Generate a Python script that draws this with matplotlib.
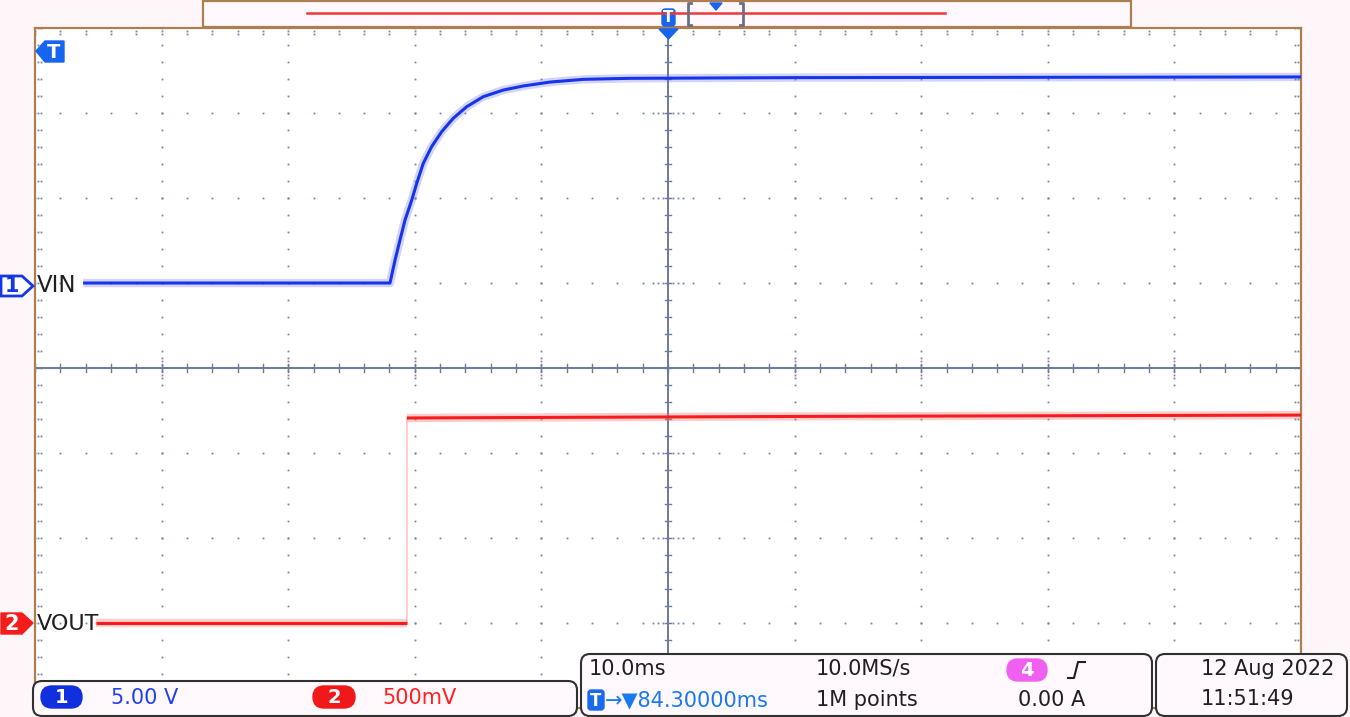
import matplotlib.pyplot as plt
from matplotlib.patches import Polygon, FancyBboxPatch, Rectangle
import numpy as np

# channel 1 (VIN), 5 V/div, ground marker at +1 div
vin_t = [3.8, 28.04, 28.44, 28.83, 29.23, 29.76, 30.15, 30.67, 31.33, 32.12, 33.04,
         34.10, 35.41, 36.99, 38.57, 40.68, 43.31, 47.0, 60.0, 80.0, 100.0]
vin_v = [0.0, 0.0, 1.35, 2.53, 3.71, 4.88, 5.86, 7.04, 8.02, 8.90, 9.69,
         10.37, 10.96, 11.35, 11.59, 11.82, 11.98, 12.04, 12.08, 12.10, 12.12]
vin_scale = 5.0
vin_offset = 1.0

# channel 2 (VOUT), 500 mV/div, ground marker at -3 div
vout_t = [4.8, 29.38, 29.38, 60.0, 100.0]
vout_v = [0.0, 0.0, 1.206, 1.215, 1.223]
vout_scale = 0.5
vout_offset = -3.0

W, H = 1350, 717
PINK = "#fff6fa"
TAN = "#ad7f50"
DOT = "#7484a6"
AXC = "#6a7a9c"
BLUE = "#1535e8"
RED = "#f51c1c"

fig = plt.figure(figsize=(W / 100, H / 100), dpi=100, facecolor=PINK)

# plot area: x 35..1301 px, y 28..708 px
ax = fig.add_axes([35 / W, (H - 708) / H, 1266 / W, 680 / H])
ax.set_facecolor("white")
ax.set_xlim(0, 100)
ax.set_ylim(-4, 4)
ax.set_xticks([])
ax.set_yticks([])
for s in ax.spines.values():
    s.set_color(TAN)
    s.set_linewidth(1.6)

# dotted graticule
for gx in range(10, 100, 10):
    if gx == 50:
        continue
    ys = np.arange(-4, 4.01, 0.2)
    ax.plot(np.full_like(ys, gx), ys, ls="none", marker="s", ms=1.3, color=DOT, mew=0)
    yd = np.array([-0.12, -0.08, -0.04, 0.04, 0.08, 0.12])
    ax.plot(np.full_like(yd, gx), yd, ls="none", marker="s", ms=1.3, color=DOT, mew=0)
for gy in range(-3, 4):
    if gy == 0:
        continue
    xs = np.arange(0, 100.01, 2)
    ax.plot(xs, np.full_like(xs, gy), ls="none", marker="s", ms=1.3, color=DOT, mew=0)
    xd = np.array([48.8, 49.2, 49.6, 50.4, 50.8, 51.2])
    ax.plot(xd, np.full_like(xd, gy), ls="none", marker="s", ms=1.3, color=DOT, mew=0)

# border ticks
yb = np.arange(-4, 4.01, 0.2)
for bx in [0.2, 0.45, 99.55, 99.8]:
    ax.plot(np.full_like(yb, bx), yb, ls="none", marker="s", ms=1.3, color=DOT, mew=0)
xb = np.arange(0, 100.01, 2)
for by in [3.97, 3.93, -3.97, -3.93]:
    ax.plot(xb, np.full_like(xb, by), ls="none", marker="s", ms=1.3, color=DOT, mew=0)

# centre cross with ticks
ax.axhline(0, color=AXC, lw=1.4)
ax.axvline(50, color=AXC, lw=1.4)
for tx in np.arange(0, 100.01, 2):
    ax.plot([tx, tx], [-0.045, 0.045], color=AXC, lw=1.0)
for ty in np.arange(-4, 4.01, 0.2):
    ax.plot([49.75, 50.25], [ty, ty], color=AXC, lw=1.0)

# traces
vin_y = [vin_offset + v / vin_scale for v in vin_v]
ax.plot(vin_t, vin_y, color="#6f6fff", lw=6, alpha=0.3, solid_capstyle="butt", zorder=5)
ax.plot(vin_t, vin_y, color=BLUE, lw=2.2, solid_capstyle="butt", zorder=6)

vout_y = [vout_offset + v / vout_scale for v in vout_v]
ax.plot(vout_t, vout_y, color="#ffb8b8", lw=1.0, zorder=5)
ax.plot(vout_t[:2], vout_y[:2], color="#ff7070", lw=6, alpha=0.35, solid_capstyle="butt", zorder=5)
ax.plot(vout_t[:2], vout_y[:2], color=RED, lw=2.2, solid_capstyle="butt", zorder=6)
ax.plot(vout_t[2:], vout_y[2:], color="#ff7070", lw=6, alpha=0.35, solid_capstyle="butt", zorder=5)
ax.plot(vout_t[2:], vout_y[2:], color=RED, lw=2.2, solid_capstyle="butt", zorder=6)

# overlay in pixel coordinates for the scope decorations
ov = fig.add_axes([0, 0, 1, 1], facecolor="none")
ov.set_xlim(0, W)
ov.set_ylim(H, 0)
ov.axis("off")

FONT = dict(family="DejaVu Sans", fontsize=15)

# channel labels and markers
ov.text(37, 286, "VIN", color="#202020", va="center", ha="left", fontsize=16.5, family="DejaVu Sans")
ov.text(37, 624, "VOUT", color="#202020", va="center", ha="left", fontsize=16, family="DejaVu Sans")
ov.add_patch(Polygon([(1, 276), (22, 276), (33, 286), (22, 296), (1, 296)], closed=True,
                     facecolor="white", edgecolor=BLUE, lw=2.0))
ov.text(12, 286.5, "1", color=BLUE, ha="center", va="center", fontsize=15, fontweight="bold")
ov.add_patch(Polygon([(1, 613), (22, 613), (33, 623), (22, 634), (1, 634)], closed=True,
                     facecolor=RED, edgecolor=RED, lw=1.0))
ov.text(12, 624, "2", color="white", ha="center", va="center", fontsize=15, fontweight="bold")
ov.add_patch(Polygon([(36, 51), (45, 41), (64, 41), (64, 62), (45, 62)], closed=True,
                     facecolor="#1565f0", edgecolor="#1565f0", lw=1.0))
ov.text(54, 52, "T", color="white", ha="center", va="center", fontsize=14, fontweight="bold")

# top record bar
ov.add_patch(Rectangle((203, 1), 928, 26, facecolor="#fff8fc", edgecolor=TAN, lw=1.6))
ov.plot([307, 945], [13, 13], color="#f03838", lw=1.8)
ov.plot([691, 688, 688, 691], [3, 3, 25, 25], color="#687088", lw=2)
ov.plot([740, 743, 743, 740], [3, 3, 25, 25], color="#687088", lw=2)
ov.add_patch(Polygon([(710, 3), (722, 3), (716, 10)], closed=True, color="#1565f0"))
ov.add_patch(FancyBboxPatch((662, 9), 13, 17, boxstyle="round,pad=0,rounding_size=3",
                            facecolor="#1565f0", edgecolor="#1565f0"))
ov.text(668.5, 17.5, "T", color="white", ha="center", va="center", fontsize=11, fontweight="bold")
ov.add_patch(Polygon([(659, 29), (678, 29), (668.5, 39)], closed=True, color="#1565f0"))

# status boxes
for x0, y0, x1, y1 in [(33, 681, 577, 716), (581, 654, 1152, 716), (1156, 654, 1347, 716)]:
    ov.add_patch(FancyBboxPatch((x0, y0), x1 - x0, y1 - y0,
                                boxstyle="round,pad=0,rounding_size=9",
                                facecolor="#fff8fc", edgecolor="#303030", lw=1.5))

ov.add_patch(FancyBboxPatch((41, 686), 41, 22, boxstyle="round,pad=0,rounding_size=11",
                            facecolor="#1030e0", edgecolor="#1030e0"))
ov.text(61.5, 697.5, "1", color="white", ha="center", va="center", fontsize=14, fontweight="bold")
ov.text(111, 698, "5.00 V", color="#2040f0", ha="left", va="center", **FONT)
ov.add_patch(FancyBboxPatch((313, 686), 42, 22, boxstyle="round,pad=0,rounding_size=11",
                            facecolor="#f01818", edgecolor="#f01818"))
ov.text(334, 697.5, "2", color="white", ha="center", va="center", fontsize=14, fontweight="bold")
ov.text(382, 698, "500mV", color="#ff2020", ha="left", va="center", **FONT)

ov.text(589, 669, "10.0ms", color="#202020", ha="left", va="center", **FONT)
ov.text(816, 669, "10.0MS/s", color="#202020", ha="left", va="center", **FONT)
ov.add_patch(FancyBboxPatch((1007, 659), 40, 22, boxstyle="round,pad=0,rounding_size=11",
                            facecolor="#f060f0", edgecolor="#f060f0"))
ov.text(1027, 670, "4", color="white", ha="center", va="center", fontsize=14, fontweight="bold")
ov.plot([1068, 1074, 1078, 1085], [678, 678, 662, 662], color="#202020", lw=1.5)

ov.add_patch(FancyBboxPatch((588, 690), 16, 20, boxstyle="round,pad=0,rounding_size=3",
                            facecolor="#1a6af0", edgecolor="#1a6af0"))
ov.text(596, 700.5, "T", color="white", ha="center", va="center", fontsize=12, fontweight="bold")
ov.text(605, 700, "→▼84.30000ms", color="#1a78f0", ha="left", va="center", **FONT)
ov.text(816, 700, "1M points", color="#202020", ha="left", va="center", **FONT)
ov.text(1018, 700, "0.00 A", color="#202020", ha="left", va="center", **FONT)

ov.text(1201, 669, "12 Aug 2022", color="#202020", ha="left", va="center", **FONT)
ov.text(1201, 699, "11:51:49", color="#202020", ha="left", va="center", **FONT)

plt.savefig("out.png", dpi=100, facecolor=PINK)
